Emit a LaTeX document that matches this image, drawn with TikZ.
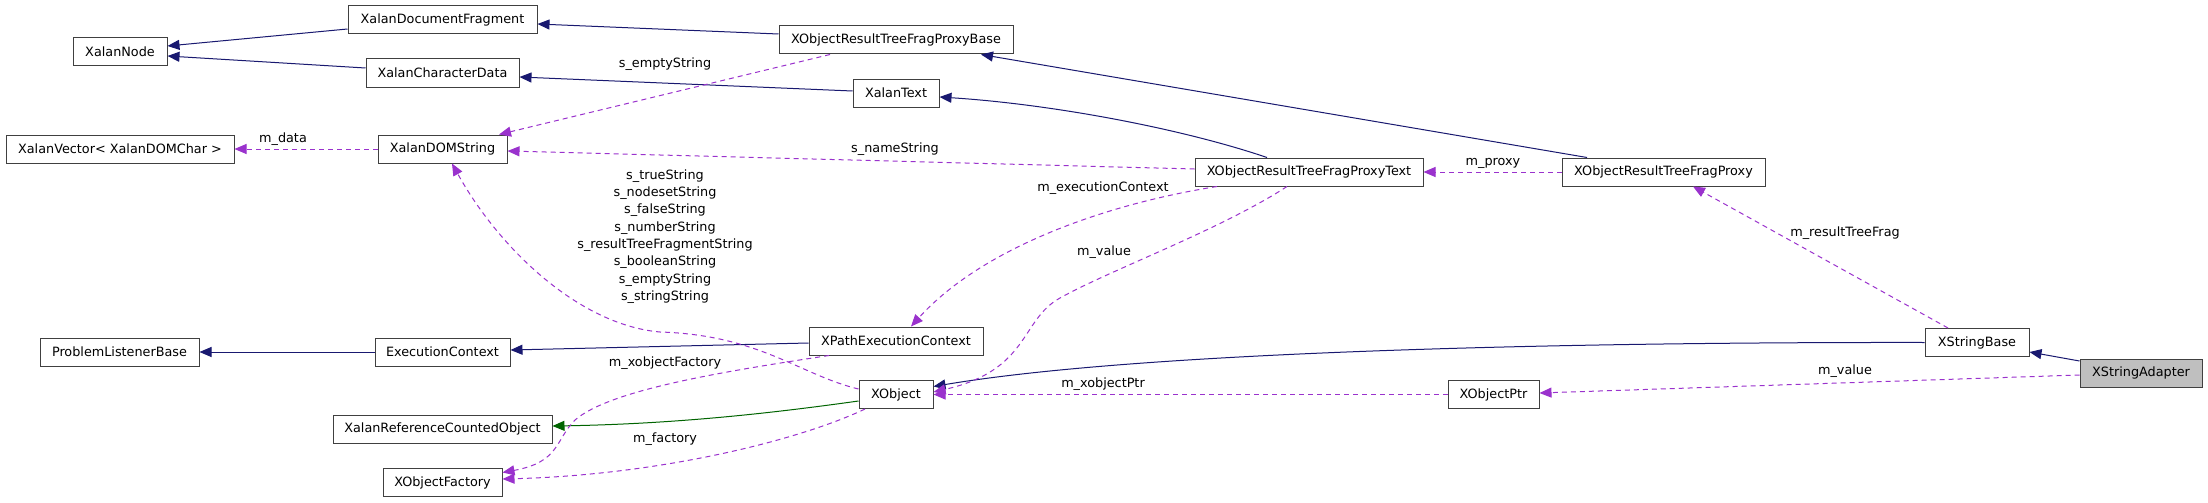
\documentclass[tikz,border=0pt]{standalone}
\usepackage{fontspec}
\setmainfont{DejaVu Sans}
\usetikzlibrary{arrows.meta,calc}
\definecolor{navyc}{HTML}{191970}
\definecolor{greenc}{HTML}{006400}
\definecolor{purplec}{HTML}{9A32CD}
\definecolor{boxgray}{HTML}{404040}
\definecolor{fillgray}{HTML}{BFBFBF}
\begin{document}
\begin{tikzpicture}[x=1pt,y=-1pt,
  box/.style={draw=boxgray, line width=1pt, fill=white, minimum height=28, inner sep=0pt,
    font=\fontsize{12.8}{15}\selectfont},
  lbl/.style={inner sep=0pt, align=center, font=\fontsize{12.8}{17.3}\selectfont},
  inh/.style={draw=navyc, line width=1pt, -{Triangle[length=12pt,width=10pt]}},
  prot/.style={draw=greenc, line width=1pt, -{Triangle[length=12pt,width=10pt]}},
  use/.style={draw=purplec, line width=1pt, dash pattern=on 5pt off 4pt, -{Triangle[length=12pt,width=10pt]}}
]
\fill[white] (0,0) rectangle (2208,503);
\useasboundingbox (0,0) rectangle (2208,503);

% nodes
\node[box, minimum width=94] (XN) at (120,52) {XalanNode};
\node[box, minimum width=189] (XDF) at (442.5,20) {XalanDocumentFragment};
\node[box, minimum width=153] (XCD) at (442.5,73) {XalanCharacterData};
\node[box, minimum width=228] (XV) at (120,149) {XalanVector< XalanDOMChar >};
\node[box, minimum width=129] (XDS) at (442.5,149) {XalanDOMString};
\node[box, minimum width=159] (PLB) at (119.5,352) {ProblemListenerBase};
\node[box, minimum width=135] (EC) at (442.5,352) {ExecutionContext};
\node[box, minimum width=219] (XRCO) at (442.5,429) {XalanReferenceCountedObject};
\node[box, minimum width=119] (XOF) at (442.5,482.5) {XObjectFactory};
\node[box, minimum width=234] (PB) at (896,40) {XObjectResultTreeFragProxyBase};
\node[box, minimum width=86] (XT) at (896,93) {XalanText};
\node[box, minimum width=174] (XPEC) at (896,341) {XPathExecutionContext};
\node[box, minimum width=74] (XO) at (896,394.5) {XObject};
\node[box, minimum width=228] (PT) at (1309,172) {XObjectResultTreeFragProxyText};
\node[box, minimum width=203] (PX) at (1663.5,172) {XObjectResultTreeFragProxy};
\node[box, minimum width=91] (XOP) at (1493.5,394.5) {XObjectPtr};
\node[box, minimum width=104] (XSB) at (1977,342.5) {XStringBase};
\node[box, minimum width=122, fill=fillgray] (XSA) at (2141,373) {XStringAdapter};

% inheritance
\draw[inh] ($(XDF.west)+(0,9)$) -- ($(XN.east)+(0,-6)$);
\draw[inh] ($(XCD.west)+(0,-5)$) -- ($(XN.east)+(0,4)$);
\draw[inh] ($(PB.west)+(0,-6)$) -- ($(XDF.east)+(0,4)$);
\draw[inh] ($(XT.west)+(0,-2)$) -- ($(XCD.east)+(0,4)$);
\draw[inh] ($(PT.north)+(-42,0)$) .. controls (1180,128) and (1050,104) .. ($(XT.east)+(0,4)$);
\draw[inh] ($(PX.north)+(-76.5,0)$) -- ($(PB.south)+(85,0)$);
\draw[inh] (EC.west) -- (PLB.east);
\draw[inh] ($(XPEC.west)+(0,2)$) -- ($(EC.east)+(0,-2)$);
\draw[prot] ($(XO.west)+(0,6.5)$) .. controls (780,412) and (680,424) .. ($(XRCO.east)+(0,-3)$);
\draw[inh] (XSB.west) .. controls (1600,342) and (1150,350) .. ($(XO.east)+(0,-8)$);
\draw[inh] ($(XSA.west)+(0,-12)$) -- ($(XSB.east)+(0,9.5)$);

% usage
\draw[use] (XDS.west) -- (XV.east);
\draw[use] ($(PB.south)+(-66,0)$) -- ($(XDS.north)+(56.5,0)$);
\draw[use] ($(PT.west)+(0,-3)$) -- ($(XDS.east)+(0,2)$);
\draw[use] ($(XO.west)+(0,-5.5)$) .. controls (800,375) and (760,335) .. (660,332)
  .. controls (580,325) and (500,250) .. ($(XDS.south)+(9.5,0)$);
\draw[use] ($(XPEC.south)+(-67,0)$) .. controls (720,372) and (610,390) .. (575,420)
  .. controls (555,440) and (560,462) .. ($(XOF.east)+(0,-10)$);
\draw[use] ($(XO.south)+(-31,0)$) .. controls (800,440) and (660,475) .. ($(XOF.east)+(0,-3.5)$);
\draw[use] ($(PT.south)+(-92,0)$) .. controls (1100,205) and (980,250) .. ($(XPEC.north)+(15,0)$);
\draw[use] ($(PT.south)+(-22,0)$) .. controls (1220,230) and (1110,270) .. (1060,298)
  .. controls (1020,320) and (1030,370) .. ($(XO.east)+(0,-2.5)$);
\draw[use] (XOP.west) -- (XO.east);
\draw[use] (PX.west) -- (PT.east);
\draw[use] ($(XSB.north)+(-29,0)$) -- ($(PX.south)+(29.5,0)$);
\draw[use] ($(XSA.west)+(0,2)$) -- ($(XOP.east)+(0,-1.5)$);

% labels
\node[lbl] (l1) at (283,139) {m\_data};
\node[lbl] (l2) at (665,64) {s\_emptyString};
\node[lbl] (l3) at (665,236.5) {s\_trueString\\s\_nodesetString\\s\_falseString\\s\_numberString\\s\_resultTreeFragmentString\\s\_booleanString\\s\_emptyString\\s\_stringString};
\node[lbl] (l4) at (895,149) {s\_nameString};
\node[lbl] (l5) at (1103,188) {m\_executionContext};
\node[lbl] (l6) at (1104,252) {m\_value};
\node[lbl] (l7) at (665,363) {m\_xobjectFactory};
\node[lbl] (l8) at (665,439) {m\_factory};
\node[lbl] (l9) at (1103,384) {m\_xobjectPtr};
\node[lbl] (l10) at (1493,163) {m\_proxy};
\node[lbl] (l11) at (1845,233) {m\_resultTreeFrag};
\node[lbl] (l12) at (1845,371) {m\_value};
\end{tikzpicture}
\end{document}
